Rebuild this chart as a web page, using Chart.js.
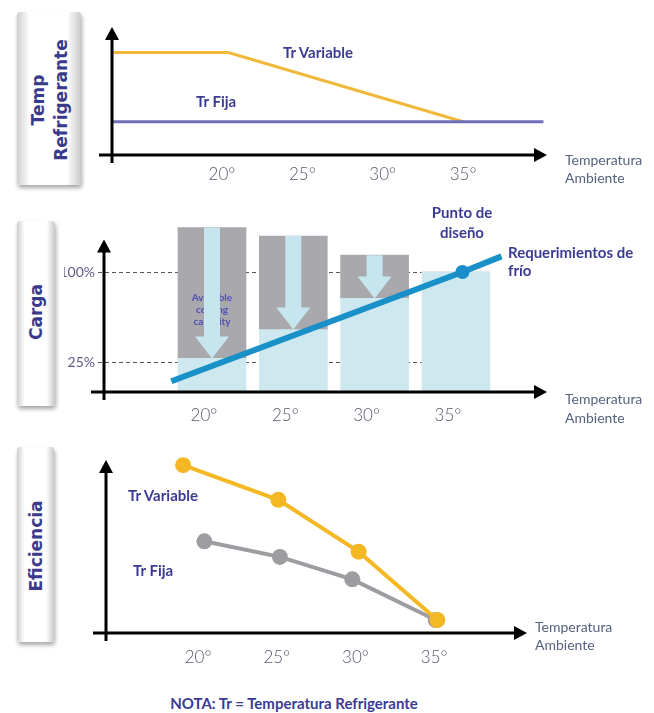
<!DOCTYPE html>
<html>
<head>
<meta charset="utf-8">
<script src="https://cdn.jsdelivr.net/npm/chart.js@4.4.0/dist/chart.umd.min.js"></script>
<style>
  body { margin: 0; background: #fff; width: 654px; height: 713px; position: relative; overflow: hidden; font-family: Lato, "Open Sans", sans-serif; }
  canvas { position: absolute; left: 0; }
  .box { position: absolute; border-radius: 3px; box-shadow: 1px 3px 4px rgba(0,0,0,.35);
         background: linear-gradient(to right, #cfcfcf 0, #fff 20%, #fff 78%, #c9c9c9 100%); }
  .vlab { position: absolute; transform: translate(-50%, -50%) rotate(-90deg); font: bold 17px "DejaVu Sans", sans-serif;
          color: #3a3a8c; white-space: nowrap; text-align: center; line-height: 23px; }
  .t { position: absolute; font-weight: bold; color: #3b3b93; font-size: 15px; white-space: nowrap; line-height: 18px; }
  .amb { position: absolute; color: #56627f; font-size: 14px; line-height: 18px; white-space: nowrap; }
</style>
</head>
<body>

<div class="box" style="left:17px;top:12px;width:64px;height:173px"></div>
<div class="vlab" style="left:50px;top:100px">Temp<br>Refrigerante</div>
<div class="box" style="left:17px;top:221px;width:38px;height:185px"></div>
<div class="vlab" style="left:36px;top:312px">Carga</div>
<div class="box" style="left:17px;top:447px;width:37px;height:195px"></div>
<div class="vlab" style="left:36px;top:546px">Eficiencia</div>

<canvas id="tempChart" width="654" height="200" style="top:0"></canvas>
<canvas id="cargaChart" width="654" height="240" style="top:200px"></canvas>
<canvas id="efiChart" width="654" height="240" style="top:440px"></canvas>

<div class="t" style="left:283px;top:43px">Tr Variable</div>
<div class="t" style="left:196px;top:92px">Tr Fija</div>
<div class="amb" style="left:565px;top:151px">Temperatura<br>Ambiente</div>

<div class="t" style="left:462px;top:202px;transform:translateX(-50%);text-align:center;line-height:20px">Punto de<br>diseño</div>
<div class="t" style="left:508px;top:243px">Requerimientos de<br>frío</div>
<div class="amb" style="left:565px;top:389px;line-height:19px">Temperatura<br>Ambiente</div>

<div class="t" style="left:128px;top:486px">Tr Variable</div>
<div class="t" style="left:133px;top:561px">Tr Fija</div>
<div class="amb" style="left:535px;top:618px">Temperatura<br>Ambiente</div>

<div class="t" style="left:294px;top:694px;transform:translateX(-50%)">NOTA: Tr = Temperatura Refrigerante</div>

<script>
// ejes x comunes
const temps = [20, 25, 30, 35];
const tickLabels = ['20°', '25°', '30°', '35°'];

// 1) Temperatura refrigerante
const trVarX = [13.2, 20.4, 35];
const trVarY = [8, 8, 2.6];
const trFijaX = [13.2, 40];
const trFijaY = [2.6, 2.6];

// 2) Carga (%)
const cargaReal = [28, 52, 78, 100];      // parte celeste
const cargaDisp = [109, 78, 36, 0];       // parte gris (capacidad disponible)
const reqX = [17.5, 35.4, 37.8];          // requerimientos de frío
const reqY = [9, 100, 113];
const cargaTicks = [25, 100];

// 3) Eficiencia
const efVarX = [19.05, 25.1, 30.2, 35.2];
const efVarY = [9.7, 7.7, 4.7, 0.75];
const efFijaX = [20.4, 25.2, 29.8, 35.1];
const efFijaY = [5.3, 4.4, 3.1, 0.75];

const pts = (xs, ys) => xs.map((x, i) => ({ x: x, y: ys[i] }));

// ejes negros con flecha
const axisArrows = {
  id: 'axisArrows',
  afterDraw(chart, args, opts) {
    const { ctx, chartArea: a, scales } = chart;
    const top = opts.yTop != null ? scales.y.getPixelForValue(opts.yTop) : a.top;
    ctx.save();
    ctx.strokeStyle = '#000';
    ctx.fillStyle = '#000';
    ctx.lineWidth = 3;
    ctx.beginPath();
    ctx.moveTo(a.left - 13, a.bottom);
    ctx.lineTo(a.right - 10, a.bottom);
    ctx.moveTo(a.left, a.bottom + 8);
    ctx.lineTo(a.left, top + 10);
    ctx.stroke();
    ctx.beginPath();
    ctx.moveTo(a.right, a.bottom);
    ctx.lineTo(a.right - 13, a.bottom - 7);
    ctx.lineTo(a.right - 13, a.bottom + 7);
    ctx.fill();
    ctx.beginPath();
    ctx.moveTo(a.left, top);
    ctx.lineTo(a.left - 7, top + 13);
    ctx.lineTo(a.left + 7, top + 13);
    ctx.fill();
    ctx.restore();
  }
};

function xScale(min, max, h, pad, off) {
  return {
    type: 'linear', min: min, max: max, offset: false, stacked: true,
    grid: { display: false, drawTicks: false }, border: { display: false },
    afterBuildTicks: s => { s.ticks = temps.map(v => ({ value: v })); },
    afterFit: s => { s.height = h; },
    ticks: {
      padding: pad, labelOffset: off || 0, autoSkip: false, maxRotation: 0,
      color: '#585a6c', font: { family: 'Lato', size: 17, weight: '300' },
      callback: (v, i) => tickLabels[i]
    }
  };
}

const noLegend = { legend: { display: false }, tooltip: { enabled: false } };
const common = { responsive: false, animation: false, events: [] };

Chart.defaults.font.family = 'Lato';

// 1 ---------------------------------------------------------
new Chart(document.getElementById('tempChart'), {
  type: 'line',
  data: {
    datasets: [
      { data: pts(trFijaX, trFijaY), borderColor: '#6d70b8', borderWidth: 3, pointRadius: 0 },
      { data: pts(trVarX, trVarY), borderColor: '#f0b93a', borderWidth: 3, pointRadius: 0 }
    ]
  },
  options: {
    ...common,
    plugins: noLegend,
    layout: { padding: { left: 112, right: 107, top: 27, bottom: 0 } },
    scales: {
      x: xScale(13.16, 40.22, 45, 9),
      y: { display: false, min: 0, max: 10 }
    }
  },
  plugins: [axisArrows]
});

// 2 ---------------------------------------------------------
const cargaDeco = {
  id: 'cargaDeco',
  beforeDatasetsDraw(chart) {
    const { ctx, chartArea: a, scales } = chart;
    ctx.save();
    ctx.strokeStyle = '#555';
    ctx.lineWidth = 1;
    ctx.setLineDash([4, 3]);
    cargaTicks.forEach(v => {
      const y = Math.round(scales.y.getPixelForValue(v)) + 0.5;
      ctx.beginPath();
      ctx.moveTo(a.left - 6, y);
      ctx.lineTo(scales.x.getPixelForValue(35), y);
      ctx.stroke();
    });
    ctx.restore();
  },
  afterDatasetDraw(chart, args) {
    // la parte celeste se dibuja después de la gris
    if (args.index !== 0) return;
    const { ctx } = chart;
    const real = chart.getDatasetMeta(0).data;
    const disp = chart.getDatasetMeta(1).data;
    ctx.save();
    ctx.fillStyle = '#4f4fb2';
    ctx.font = 'bold 10px Lato';
    ctx.textAlign = 'center';
    ctx.textBaseline = 'middle';
    ['Available', 'cooling', 'capacity'].forEach((s, i) => ctx.fillText(s, real[0].x, 98 + i * 12));
    // flechas
    ctx.fillStyle = '#c6e5ee';
    for (let i = 0; i < 3; i++) {
      const x = disp[i].x, top = disp[i].y, tip = real[i].y;
      const hh = 22, sw = 8, hw = 17;
      ctx.beginPath();
      ctx.moveTo(x - sw, top);
      ctx.lineTo(x + sw, top);
      ctx.lineTo(x + sw, tip - hh);
      ctx.lineTo(x + hw, tip - hh);
      ctx.lineTo(x, tip);
      ctx.lineTo(x - hw, tip - hh);
      ctx.lineTo(x - sw, tip - hh);
      ctx.closePath();
      ctx.fill();
    }
    ctx.restore();
  }
};

new Chart(document.getElementById('cargaChart'), {
  type: 'bar',
  data: {
    datasets: [
      { type: 'bar', data: pts(temps, cargaReal), backgroundColor: '#cde8ef', barThickness: 68, order: 2, stack: 'cap' },
      { type: 'bar', data: pts(temps, cargaDisp), backgroundColor: '#a9a9ad', barThickness: 68, order: 3, stack: 'cap' },
      { type: 'line', data: pts(reqX, reqY), borderColor: '#1a90c9', borderWidth: 6, order: 1, stack: 'req',
        pointRadius: [0, 7, 0], pointBackgroundColor: '#1a8cc8', pointBorderWidth: 0, clip: false }
    ]
  },
  options: {
    ...common,
    plugins: { ...noLegend, axisArrows: { yTop: 127 } },
    layout: { padding: { left: 64, right: 107, top: 24, bottom: 0 } },
    scales: {
      x: xScale(13.36, 40.6, 48, 13, -8),
      y: {
        min: 0, max: 140, stacked: true,
        grid: { display: false, drawTicks: false }, border: { display: false },
        afterBuildTicks: s => { s.ticks = cargaTicks.map(v => ({ value: v })); },
        afterFit: s => { s.width = 40; },
        ticks: { padding: 9, color: '#5e5c86', font: { family: 'Lato', size: 14 }, callback: v => v + '%' }
      }
    }
  },
  plugins: [cargaDeco, axisArrows]
});

// 3 ---------------------------------------------------------
new Chart(document.getElementById('efiChart'), {
  type: 'line',
  data: {
    datasets: [
      { data: pts(efFijaX, efFijaY), borderColor: '#9d9da1', backgroundColor: '#9d9da1', borderWidth: 4,
        pointRadius: 8, pointBorderWidth: 0, order: 2, clip: false },
      { data: pts(efVarX, efVarY), borderColor: '#f5b825', backgroundColor: '#f5b825', borderWidth: 4,
        pointRadius: 8, pointBorderWidth: 0, order: 1, clip: false }
    ]
  },
  options: {
    ...common,
    plugins: noLegend,
    layout: { padding: { left: 106, right: 127, top: 20, bottom: 0 } },
    scales: {
      x: xScale(14.15, 40.9, 47, 14),
      y: { display: false, min: 0, max: 10 }
    }
  },
  plugins: [axisArrows]
});
</script>
</body>
</html>
